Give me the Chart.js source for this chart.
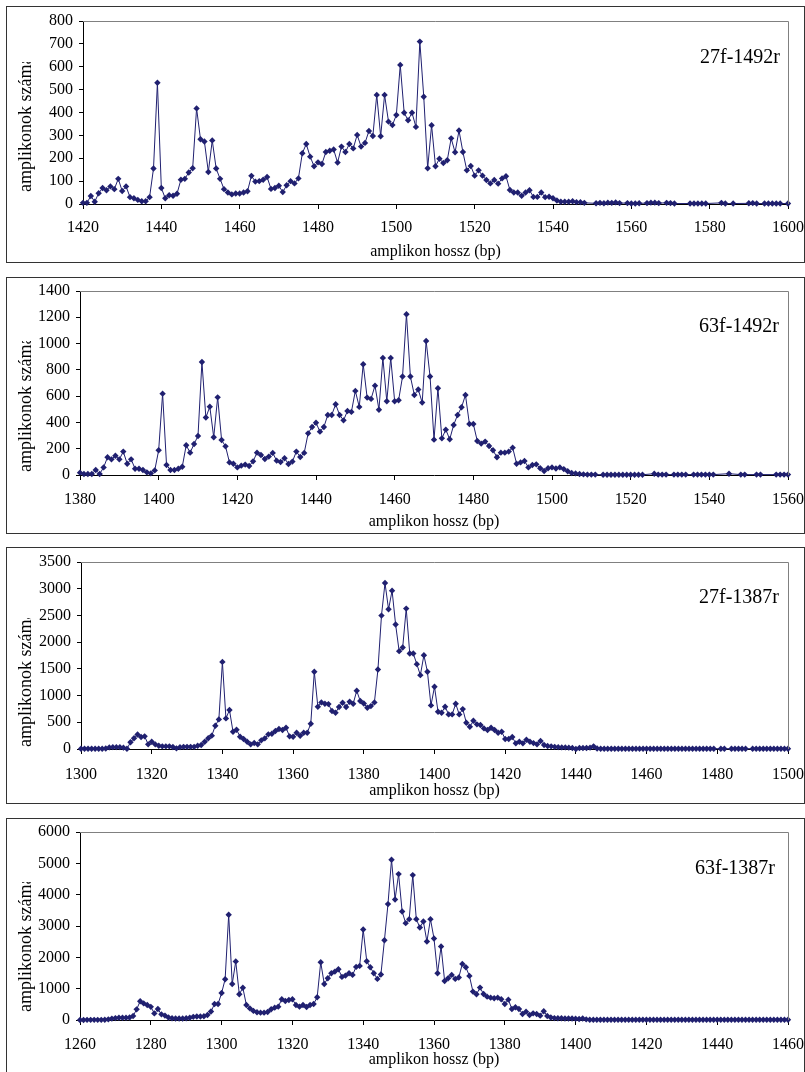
<!DOCTYPE html>
<html>
<head>
<meta charset="utf-8">
<script src="https://cdn.jsdelivr.net/npm/chart.js@4.4.0/dist/chart.umd.min.js"></script>
<style>
  body { margin: 0; background: #fff; width: 805px; height: 1072px; overflow: hidden; position: relative; }
  canvas { position: absolute; left: 6px; }
  .box { position: absolute; left: 6px; width: 799px; height: 257px; box-sizing: border-box; border: 1px solid #333; z-index: 2; }
</style>
</head>
<body>
<canvas id="c0" width="798" height="256" style="top:6px"></canvas>
<canvas id="c1" width="798" height="256" style="top:277px"></canvas>
<canvas id="c2" width="798" height="256" style="top:547px"></canvas>
<canvas id="c3" width="798" height="256" style="top:818px"></canvas>
<div class="box" style="top:6px"></div>
<div class="box" style="top:277px"></div>
<div class="box" style="top:547px"></div>
<div class="box" style="top:818px"></div>
<script>
const xTitle = 'amplikon hossz (bp)';
const yTitle = 'amplikonok száma';

const primerPairs = ['27f-1492r', '63f-1492r', '27f-1387r', '63f-1387r'];
const xMins = [1420, 1380, 1300, 1260];
const xMaxs = [1600, 1560, 1500, 1460];
const yMaxs = [800, 1400, 3500, 6000];
const ySteps = [100, 200, 500, 1000];

// counts per bp, first value at xMins[i]; null = no point
const counts27f1492r = [
  5, 5, 35, 10, 47, 70, 60, 77, 65, 110,
  57, 77, 30, 25, 18, 12, 12, 30, 155, 530,
  70, 25, 38, 36, 45, 106, 110, 138, 156, 418,
  283, 273, 140, 278, 155, 110, 65, 50, 42, 46,
  46, 50, 56, 123, 98, 100, 106, 118, 66, 70,
  80, 52, 82, 100, 90, 112, 222, 262, 207, 165,
  182, 175, 227, 233, 238, 181, 251, 227, 262, 243,
  302, 251, 267, 319, 297, 477, 296, 477, 360, 345,
  389, 608, 399, 366, 399, 337, 710, 469, 156, 344,
  165, 198, 179, 191, 287, 226, 321, 227, 147, 166,
  124, 147, 124, 105, 90, 105, 89, 112, 121, 61,
  50, 50, 36, 50, 60, 31, 31, 50, 30, 32,
  25, 15, 10, 10, 10, 12, 8, 8, 5, null,
  null, 3, 5, 3, 6, 5, 7, 4, null, 4,
  2, 2, 3, null, 4, 6, 6, 4, null, 5,
  4, 2, null, null, null, 2, 2, 2, 2, 2,
  null, null, null, 5, 2, null, 2, null, null, null,
  3, 4, 2, null, 2, 2, 2, 2, 2, null,
  2
];

const counts63f1492r = [
  18, 8, 8, 8, 38, 8, 58, 135, 119, 147,
  119, 178, 86, 119, 48, 48, 38, 20, 12, 35,
  188, 619, 76, 38, 38, 48, 63, 226, 170, 236,
  297, 860, 437, 520, 287, 591, 266, 218, 96, 86,
  58, 71, 79, 69, 104, 170, 152, 122, 140, 168,
  109, 99, 127, 84, 102, 178, 137, 168, 317, 365,
  398, 330, 365, 457, 457, 538, 457, 416, 487, 480,
  640, 518, 843, 589, 579, 680, 497, 891, 561, 891,
  561, 569, 749, 1223, 749, 609, 650, 551, 1020, 749,
  269, 660, 279, 345, 272, 381, 457, 515, 609, 388,
  388, 259, 239, 254, 221, 188, 135, 170, 170, 178,
  208, 86, 96, 107, 58, 76, 81, 51, 30, 51,
  58, 50, 58, 45, 28, 15, 12, 8, 5, 3,
  3, 3, null, 2, 2, 2, 2, 2, 2, 2,
  2, 2, 2, 2, null, null, 10, 3, 3, 3,
  null, 3, 3, 3, 3, null, 3, 3, 3, 3,
  3, 3, null, null, null, 10, null, null, 3, 3,
  null, null, 3, 3, null, null, null, 3, 3, 3,
  3
];

const counts27f1387r = [
  5, 5, 5, 5, 5, 5, 5, 10, 30, 35,
  35, 35, 25, 5, 125, 200, 270, 224, 237, 87,
  137, 87, 62, 50, 50, 50, 37, 12, 35, 40,
  40, 40, 40, 60, 75, 135, 200, 250, 436, 554,
  1630, 573, 729, 324, 361, 230, 187, 137, 87, 112,
  87, 162, 199, 274, 286, 336, 374, 355, 398, 237,
  230, 305, 249, 305, 305, 473, 1445, 791, 872, 847,
  840, 710, 679, 785, 866, 785, 884, 847, 1090, 897,
  853, 772, 803, 872, 1488, 2497, 3107, 2615, 2964, 2329,
  1831, 1899, 2628, 1787, 1787, 1588, 1382, 1756, 1445, 816,
  1164, 697, 679, 791, 648, 648, 847, 648, 747, 492,
  417, 529, 461, 448, 386, 355, 398, 355, 305, 324,
  187, 187, 224, 106, 137, 106, 174, 137, 110, 87,
  149, 75, 55, 50, 40, 35, 30, 30, 25, 20,
  0, 20, 20, 20, 25, 50, 10, 5, 5, 5,
  5, 5, 5, 5, 5, 5, 5, 5, 5, 5,
  5, 5, 5, 5, 5, 5, 5, 5, 5, 5,
  5, 5, 5, 5, 5, 5, 5, 5, 5, 5,
  null, 5, 5, null, 5, 5, 5, 5, 5, null,
  5, 5, 5, 5, 5, 5, 5, 5, 5, 5,
  5
];

const counts63f1387r = [
  0, 0, 5, 5, 5, 5, 5, 10, 20, 45,
  60, 70, 70, 70, 80, 130, 340, 600, 530, 480,
  420, 210, 350, 180, 140, 80, 55, 50, 50, 50,
  55, 70, 100, 110, 110, 120, 160, 270, 510, 510,
  860, 1300, 3357, 1150, 1870, 820, 1030, 480, 370, 290,
  245, 234, 234, 256, 341, 394, 426, 660, 607, 640,
  660, 480, 426, 480, 415, 480, 511, 725, 1844, 1151,
  1332, 1492, 1545, 1620, 1375, 1417, 1492, 1439, 1694, 1726,
  2888, 1875, 1684, 1492, 1311, 1450, 2547, 3699, 5116, 3848,
  4657, 3464, 3091, 3219, 4625, 3219, 2952, 3144, 2504, 3219,
  2600, 1492, 2345, 1247, 1332, 1439, 1311, 1354, 1791, 1684,
  1407, 906, 821, 1034, 831, 746, 714, 693, 714, 661,
  511, 650, 352, 405, 352, 192, 267, 160, 213, 192,
  139, 280, 128, 80, 60, 55, 55, 50, 50, 50,
  40, 30, 50, 20, 10, 10, 10, 10, 10, 10,
  10, 10, 10, 10, 10, 10, 10, 10, 10, 10,
  10, 10, 10, 10, 10, 10, 10, 10, 10, 10,
  10, 10, 10, 10, 10, 10, 10, 10, 10, 10,
  10, 10, 10, 10, 10, 10, 10, 10, 10, 10,
  10, 10, 10, 10, 10, 10, 10, 10, 10, 10,
  10
];

const allCounts = [counts27f1492r, counts63f1492r, counts27f1387r, counts63f1387r];

// layout inside each 798x256 canvas
const plotLefts = [77, 74, 75, 74];
const plotTops = [15, 14, 15, 14];
const plotBottoms = [198, 198, 202, 202];
const xTickPads = [9, 10, 11, 10];
const xTitlePads = [2, 3, 4, 6];
const yTitleClips = [56, 64, 71, 64];
const yTitleBottoms = [186, 195, 200, 194];
const labelRights = [774, 773, 773, 769];
const labelBases = [57, 55, 56, 56];

const navy = '#202070';
const serif = 'Liberation Serif, Times New Roman, serif';

const panelDeco = {
  id: 'panelDeco',
  afterDraw(chart, args, opts) {
    const ctx = chart.ctx;
    const a = chart.chartArea;
    ctx.save();
    // grey plot-area frame, top and right
    ctx.strokeStyle = '#808080';
    ctx.lineWidth = 1;
    ctx.beginPath();
    ctx.moveTo(a.left, a.top + 0.5);
    ctx.lineTo(a.right + 0.5, a.top + 0.5);
    ctx.lineTo(a.right + 0.5, a.bottom);
    ctx.stroke();

    ctx.fillStyle = '#000';
    ctx.font = '20px ' + serif;
    ctx.textAlign = 'right';
    ctx.textBaseline = 'alphabetic';
    ctx.fillText(opts.label, opts.labelX, opts.labelY);

    // y title is cut off at the top in the original
    ctx.beginPath();
    ctx.rect(0, opts.clipTop, a.left - 20, 256);
    ctx.clip();
    ctx.translate(25, opts.titleBottom);
    ctx.rotate(-Math.PI / 2);
    ctx.textAlign = 'left';
    ctx.font = '18px ' + serif;
    ctx.fillText(yTitle, 0, 0);
    ctx.restore();
  }
};

function makePanel(i) {
  const pts = [];
  allCounts[i].forEach((v, k) => {
    if (v !== null) pts.push({ x: xMins[i] + k, y: v });
  });

  new Chart(document.getElementById('c' + i), {
    type: 'line',
    data: {
      datasets: [{
        data: pts,
        borderColor: navy,
        backgroundColor: navy,
        borderWidth: 1,
        pointStyle: 'rectRot',
        pointRadius: 3.2,
        pointBorderWidth: 0,
        tension: 0,
        clip: false
      }]
    },
    options: {
      responsive: false,
      animation: false,
      events: [],
      layout: { padding: { left: 0, right: 16, top: plotTops[i], bottom: 0 } },
      plugins: {
        legend: { display: false },
        tooltip: { enabled: false },
        panelDeco: {
          label: primerPairs[i],
          labelX: labelRights[i],
          labelY: labelBases[i],
          clipTop: yTitleClips[i],
          titleBottom: yTitleBottoms[i]
        }
      },
      scales: {
        x: {
          type: 'linear',
          min: xMins[i],
          max: xMaxs[i],
          ticks: {
            stepSize: 20,
            color: '#000',
            font: { family: serif, size: 16 },
            padding: xTickPads[i],
            maxRotation: 0,
            autoSkip: false,
            callback: v => String(v)
          },
          grid: { drawOnChartArea: false, tickLength: 5, color: '#000' },
          border: { color: '#000', width: 1 },
          title: {
            display: true,
            text: xTitle,
            color: '#000',
            font: { family: serif, size: 16, lineHeight: 1 },
            padding: { top: 0, bottom: xTitlePads[i] }
          },
          afterFit: s => {
            s.height = 256 - plotBottoms[i];
            s.paddingLeft = 0;
            s.paddingRight = 0;
          }
        },
        y: {
          min: 0,
          max: yMaxs[i],
          ticks: {
            stepSize: ySteps[i],
            color: '#000',
            font: { family: serif, size: 16 },
            padding: 6,
            callback: v => String(v)
          },
          grid: { drawOnChartArea: false, tickLength: 4, color: '#000' },
          border: { color: '#000', width: 1 },
          afterFit: s => {
            s.width = plotLefts[i];
            s.paddingTop = 0;
            s.paddingBottom = 0;
          }
        }
      }
    },
    plugins: [panelDeco]
  });
}

for (let i = 0; i < 4; i++) makePanel(i);
</script>
</body>
</html>
